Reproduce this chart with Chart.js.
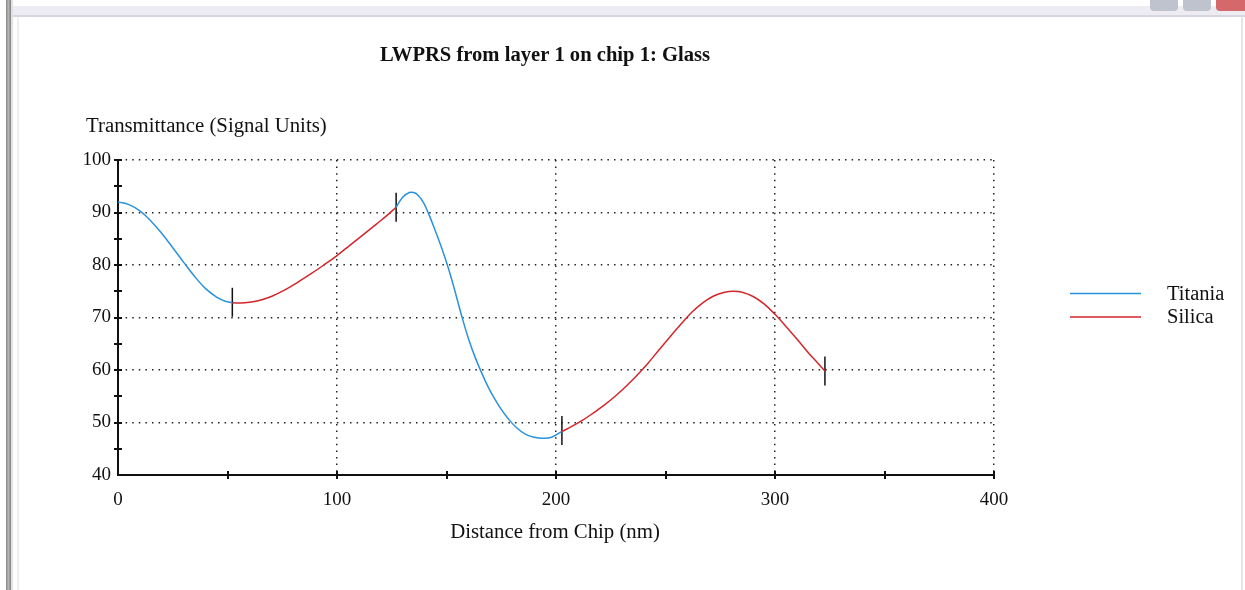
<!DOCTYPE html>
<html>
<head>
<meta charset="utf-8">
<script src="https://cdn.jsdelivr.net/npm/chart.js@4/dist/chart.umd.min.js"></script>
<style>
  html, body { margin: 0; padding: 0; background: #fff; }
  #wrap { position: relative; width: 1245px; height: 590px; overflow: hidden; background: #fff; }
  .leftbar { position: absolute; left: 6px; top: 0; width: 5px; height: 590px;
             background: linear-gradient(to right, #8a8a8a, #b4b4b4, #7f7f7f); }
  .leftlight { position: absolute; left: 11px; top: 0; width: 2px; height: 590px; background: #e2e2e6; }
  .topbar { position: absolute; left: 13px; top: 6px; width: 1232px; height: 9px; background: #ececf2;
            border-bottom: 2px solid #d6d6de; }
  .innerleft { position: absolute; left: 17px; top: 17px; width: 2px; height: 573px; background: #ededf2; }
  .innerright { position: absolute; left: 1241px; top: 17px; width: 2px; height: 573px; background: #e6e6ea; }
  .btn { position: absolute; top: -4px; height: 15px; border-radius: 4px; }
  #chartBox { position: absolute; left: 0; top: 0; width: 1245px; height: 590px; }
</style>
</head>
<body>
<div id="wrap">
  <div class="leftbar"></div>
  <div class="leftlight"></div>
  <div class="topbar"></div>
  <div class="innerleft"></div>
  <div class="innerright"></div>
  <div class="btn" style="left:1150px;width:28px;background:#bfc3cd;"></div>
  <div class="btn" style="left:1183px;width:28px;background:#bfc3cd;"></div>
  <div class="btn" style="left:1216px;width:32px;background:#d4686a;"></div>
  <div id="chartBox"><canvas id="c" width="1245" height="590"></canvas></div>
</div>
<script>
// ---- Data ----
const chartTitle = 'LWPRS from layer 1 on chip 1: Glass';
const yAxisTitle = 'Transmittance (Signal Units)';
const xAxisTitle = 'Distance from Chip (nm)';
const seriesNames = ['Titania', 'Silica'];

const titaniaX1 = [0, 5, 10, 15, 20, 25, 30, 35, 40, 45, 49, 52.2];
const titaniaY1 = [92.0, 91.5, 90.3, 88.4, 86.0, 83.3, 80.5, 77.8, 75.5, 73.9, 73.1, 72.8];

const silicaX1 = [52.2, 58, 64, 70, 76, 82, 88, 94, 100, 106, 112, 118, 123, 127];
const silicaY1 = [72.8, 72.8, 73.2, 74.0, 75.2, 76.7, 78.3, 80.0, 81.8, 83.8, 85.8, 87.8, 89.5, 91.0];

const titaniaX2 = [127, 130, 133, 135, 137, 139.5, 142, 145, 148, 151, 154, 157, 160, 163, 166, 169, 172, 175, 178, 182, 186, 190, 194, 198, 202.7];
const titaniaY2 = [91.0, 92.9, 93.8, 93.8, 93.3, 91.9, 89.6, 86.4, 83.0, 79.2, 74.8, 70.2, 66.0, 62.5, 59.5, 56.8, 54.5, 52.5, 50.8, 49.0, 47.8, 47.2, 47.0, 47.2, 48.3];

const silicaX2 = [202.7, 207, 212, 217, 222, 227, 232, 237, 242, 247, 252, 257, 262, 267, 272, 277, 281, 285, 290, 295, 300, 305, 310, 315, 320, 322.8];
const silicaY2 = [48.3, 49.2, 50.4, 51.8, 53.3, 55.0, 56.9, 59.0, 61.3, 63.8, 66.3, 68.7, 71.0, 72.8, 74.1, 74.8, 75.0, 74.8, 74.0, 72.6, 70.6, 68.3, 65.9, 63.4, 61.1, 59.8];

const markerX = [52.2, 127, 202.7, 322.8];
const markerY = [72.9, 91.0, 48.5, 59.8];

const xMin = 0, xMax = 400, xStep = 50, xLabelStep = 100;
const yMin = 40, yMax = 100, yStep = 5, yLabelStep = 10;

// ---- Build datasets ----
function pts(xs, ys) { return xs.map((x, i) => ({ x: x, y: ys[i] })); }
const titaniaData = pts(titaniaX1, titaniaY1).concat([{ x: 90, y: null }], pts(titaniaX2, titaniaY2));
const silicaData = pts(silicaX1, silicaY1).concat([{ x: 165, y: null }], pts(silicaX2, silicaY2));

const BLUE = '#2a92dc';
const RED = '#d3262b';
const FONT = '"Liberation Serif", "Times New Roman", serif';
const TRANSP = 'rgba(0,0,0,0)';

const overlay = {
  id: 'overlay',
  afterDraw(chart) {
    const ctx = chart.ctx;
    const xs = chart.scales.x, ys = chart.scales.y;
    ctx.save();
    // crossing tick marks on axes
    ctx.strokeStyle = '#111';
    ctx.lineWidth = 2;
    ctx.setLineDash([]);
    const yAxisPx = xs.getPixelForValue(xMin);
    const xAxisPx = ys.getPixelForValue(yMin);
    xs.ticks.forEach(t => {
      if (t.value === xMin) return;
      const px = Math.round(xs.getPixelForValue(t.value));
      ctx.beginPath(); ctx.moveTo(px, xAxisPx - 4); ctx.lineTo(px, xAxisPx + 4); ctx.stroke();
    });
    ys.ticks.forEach(t => {
      if (t.value === yMin) return;
      const py = Math.round(ys.getPixelForValue(t.value));
      ctx.beginPath(); ctx.moveTo(yAxisPx - 4, py); ctx.lineTo(yAxisPx + 4, py); ctx.stroke();
    });
    // texts
    ctx.fillStyle = '#111';
    ctx.textBaseline = 'middle';
    ctx.font = 'bold 20.6px ' + FONT;
    ctx.textAlign = 'center';
    ctx.fillText(chartTitle, 545, 56);
    ctx.font = '20.8px ' + FONT;
    ctx.textAlign = 'left';
    ctx.fillText(yAxisTitle, 86, 127);
    ctx.textAlign = 'center';
    ctx.fillText(xAxisTitle, 555, 533);
    // legend
    ctx.font = '20.5px ' + FONT;
    const legendItems = chart.data.datasets.filter(d => d.inLegend);
    legendItems.forEach((d, i) => {
      const ly = 293.5 + i * 23.5;
      ctx.strokeStyle = d.borderColor;
      ctx.lineWidth = 1.5;
      ctx.beginPath(); ctx.moveTo(1070, ly); ctx.lineTo(1141, ly); ctx.stroke();
      ctx.fillStyle = '#111';
      ctx.textAlign = 'left';
      ctx.fillText(d.label, 1167, ly + 1);
    });
    ctx.restore();
  }
};

new Chart(document.getElementById('c'), {
  type: 'line',
  data: {
    datasets: [
      { label: seriesNames[0], inLegend: true, data: titaniaData, borderColor: BLUE, borderWidth: 1.5,
        pointRadius: 0, tension: 0.4, spanGaps: false, fill: false },
      { label: seriesNames[1], inLegend: true, data: silicaData, borderColor: RED, borderWidth: 1.5,
        pointRadius: 0, tension: 0.4, spanGaps: false, fill: false },
      { label: 'boundaries', inLegend: false, data: pts(markerX, markerY), showLine: false,
        pointStyle: 'line', pointRotation: 90, pointRadius: 14.5, pointBorderColor: '#111',
        pointBorderWidth: 1.5, pointBackgroundColor: '#111', borderColor: '#111' }
    ]
  },
  options: {
    responsive: false,
    animation: false,
    events: [],
    layout: { padding: { left: 0, top: 160, right: 251, bottom: 0 } },
    plugins: { legend: { display: false }, title: { display: false }, tooltip: { enabled: false } },
    scales: {
      x: {
        type: 'linear', min: xMin, max: xMax,
        afterFit(s) { s.height = 115; },
        ticks: {
          stepSize: xStep, autoSkip: false, maxRotation: 0, padding: 14,
          color: '#111', font: { family: FONT, size: 19 },
          callback: v => (v % xLabelStep === 0 ? String(v) : '')
        },
        grid: {
          drawTicks: false, lineWidth: 1.5,
          color: c => (c.tick && c.tick.value % xLabelStep === 0 && c.tick.value > xMin ? '#222' : TRANSP)
        },
        border: { display: true, color: '#111', width: 2, dash: [1.5, 5.1] }
      },
      y: {
        type: 'linear', min: yMin, max: yMax,
        afterFit(s) { s.width = 118; },
        ticks: {
          stepSize: yStep, autoSkip: false, padding: 7,
          color: '#111', font: { family: FONT, size: 19 },
          callback: v => (v % yLabelStep === 0 ? String(v) : '')
        },
        grid: {
          drawTicks: false, lineWidth: 1.5,
          color: c => (c.tick && c.tick.value % yLabelStep === 0 && c.tick.value > yMin ? '#222' : TRANSP)
        },
        border: { display: true, color: '#111', width: 2, dash: [1.5, 5.1] }
      }
    }
  },
  plugins: [overlay]
});
</script>
</body>
</html>
